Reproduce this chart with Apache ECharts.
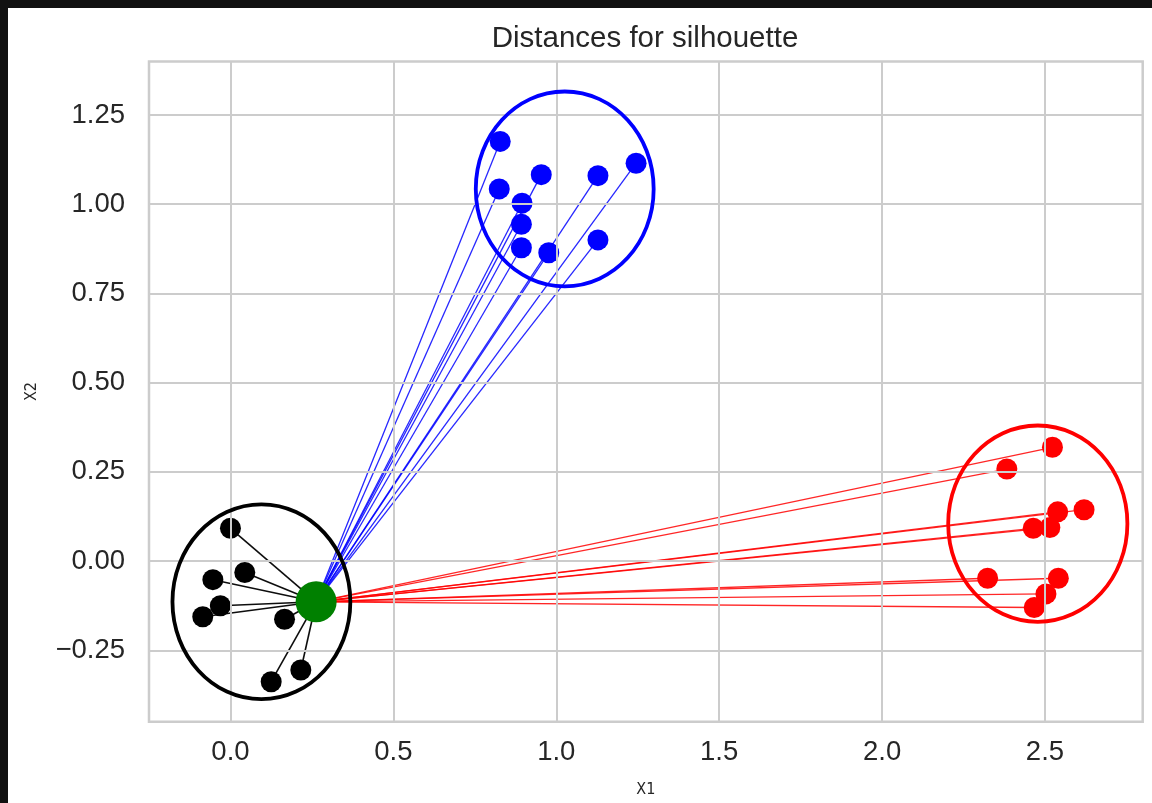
<!DOCTYPE html>
<html>
<head>
<meta charset="utf-8">
<script src="https://cdn.jsdelivr.net/npm/echarts@6/dist/echarts.min.js"></script>
<style>
  html, body { margin: 0; padding: 0; background: #111111; width: 1152px; height: 803px; overflow: hidden; }
  #chart { position: absolute; left: 8px; top: 8px; width: 1144px; height: 795px; background: #ffffff; }
</style>
</head>
<body>
<div id="chart"></div>
<script>
// ---- data ----
const titleText = 'Distances for silhouette';
const xName = 'X1';
const yName = 'X2';

const refPoint = [0.263, -0.114];           // green point

const blackX = [0.000, -0.054, 0.044, -0.031, -0.085, 0.166, 0.216, 0.125];
const blackY = [0.092, -0.052, -0.032, -0.125, -0.156, -0.163, -0.305, -0.338];

const blueX = [0.828, 0.825, 0.954, 0.895, 0.893, 0.893, 0.977, 1.128, 1.245, 1.128];
const blueY = [1.176, 1.043, 1.083, 1.003, 0.944, 0.878, 0.864, 1.080, 1.115, 0.900];

const redX = [2.523, 2.383, 2.620, 2.539, 2.464, 2.515, 2.324, 2.541, 2.503, 2.467];
const redY = [0.319, 0.258, 0.144, 0.138, 0.092, 0.094, -0.048, -0.048, -0.092, -0.130];

// cluster circles: [centerX, centerY, radius]
const blackCircle = [0.095, -0.114, 0.273];
const blueCircle  = [1.026, 1.043, 0.273];
const redCircle   = [2.478, 0.105, 0.275];

const xTicks = [0.0, 0.5, 1.0, 1.5, 2.0, 2.5];
const yTicks = [-0.25, 0.0, 0.25, 0.5, 0.75, 1.0, 1.25];

// ---- build ----
const pts = (xs, ys) => xs.map((x, i) => [x, ys[i]]);
const segs = (xs, ys) => xs.map((x, i) => ({ coords: [refPoint, [x, ys[i]]] }));
const isTick = (arr, v) => arr.some(t => Math.abs(t - v) < 1e-6);

const tickFont = 'Liberation Sans, Arial, sans-serif';
const nameFont = 'Liberation Sans Narrow, DejaVu Sans Condensed, sans-serif';
const textColor = '#262626';
const gridColor = '#cccccc';

function ellipseSeries(c, color) {
  return {
    type: 'custom',
    coordinateSystem: 'cartesian2d',
    z: 6,
    silent: true,
    data: [c],
    renderItem: function (params, api) {
      const p = api.coord([api.value(0), api.value(1)]);
      const s = api.size([api.value(2), api.value(2)]);
      return {
        type: 'ellipse',
        shape: { cx: p[0], cy: p[1], rx: s[0], ry: s[1] },
        style: { fill: 'none', stroke: color, lineWidth: 3.8 }
      };
    }
  };
}

function linesSeries(xs, ys, color, width, opacity) {
  return {
    type: 'lines',
    coordinateSystem: 'cartesian2d',
    z: 3,
    silent: true,
    lineStyle: { color: color, width: width, opacity: opacity },
    data: segs(xs, ys)
  };
}

function scatterSeries(xs, ys, color, size, z) {
  return {
    type: 'scatter',
    z: z,
    symbol: 'circle',
    symbolSize: size,
    itemStyle: { color: color, opacity: 1 },
    data: pts(xs, ys)
  };
}

const gridLineSeries = {
  type: 'scatter',
  z: 1,
  silent: true,
  symbolSize: 0,
  data: [],
  markLine: {
    silent: true,
    symbol: ['none', 'none'],
    animation: false,
    label: { show: false },
    lineStyle: { color: gridColor, width: 2, type: 'solid', opacity: 1 },
    emphasis: { disabled: true },
    data: xTicks.map(v => ({ xAxis: v })).concat(yTicks.map(v => ({ yAxis: v })))
  }
};

const chart = echarts.init(document.getElementById('chart'), null, { renderer: 'canvas' });
chart.setOption({
  animation: false,
  backgroundColor: '#ffffff',
  title: {
    text: titleText,
    left: 632,
    textAlign: 'center',
    top: 11,
    textStyle: { fontFamily: tickFont, fontSize: 29.5, fontWeight: 'normal', color: textColor }
  },
  grid: {
    left: 141, top: 53.5, right: 9.3, bottom: 81.3,
    show: true, borderColor: gridColor, borderWidth: 2.5, backgroundColor: 'transparent'
  },
  xAxis: {
    type: 'value',
    min: -0.25, max: 2.8,
    interval: 0.25,
    name: xName,
    nameLocation: 'middle',
    nameGap: 60,
    nameTextStyle: { fontFamily: nameFont, fontSize: 16, color: textColor },
    axisLine: { show: false },
    axisTick: { show: false },
    splitLine: { show: false },
    axisLabel: {
      fontFamily: tickFont, fontSize: 27.5, color: textColor, margin: 17,
      showMinLabel: false, showMaxLabel: false,
      formatter: v => isTick(xTicks, v) ? v.toFixed(1) : ''
    }
  },
  yAxis: {
    type: 'value',
    min: -0.45, max: 1.4,
    interval: 0.05,
    name: yName,
    nameLocation: 'middle',
    nameGap: 109,
    nameTextStyle: { fontFamily: nameFont, fontSize: 16, color: textColor },
    axisLine: { show: false },
    axisTick: { show: false },
    splitLine: { show: false },
    axisLabel: {
      fontFamily: tickFont, fontSize: 27.5, color: textColor, margin: 24,
      padding: [5, 0, 0, 0],
      showMinLabel: false, showMaxLabel: false,
      formatter: v => isTick(yTicks, v) ? (v < 0 ? '\u2212' + Math.abs(v).toFixed(2) : v.toFixed(2)) : ''
    }
  },
  series: [
    gridLineSeries,
    linesSeries(blueX, blueY, '#0000ff', 1.3, 0.85),
    linesSeries(redX, redY, '#ff0000', 1.3, 0.85),
    linesSeries(blackX, blackY, '#000000', 1.6, 0.95),
    scatterSeries(blackX, blackY, '#000000', 21, 4),
    scatterSeries(blueX, blueY, '#0000ff', 21, 4),
    scatterSeries(redX, redY, '#ff0000', 21, 4),
    scatterSeries([refPoint[0]], [refPoint[1]], '#008000', 41, 5),
    ellipseSeries(blackCircle, '#000000'),
    ellipseSeries(blueCircle, '#0000ff'),
    ellipseSeries(redCircle, '#ff0000')
  ]
});
</script>
</body>
</html>
